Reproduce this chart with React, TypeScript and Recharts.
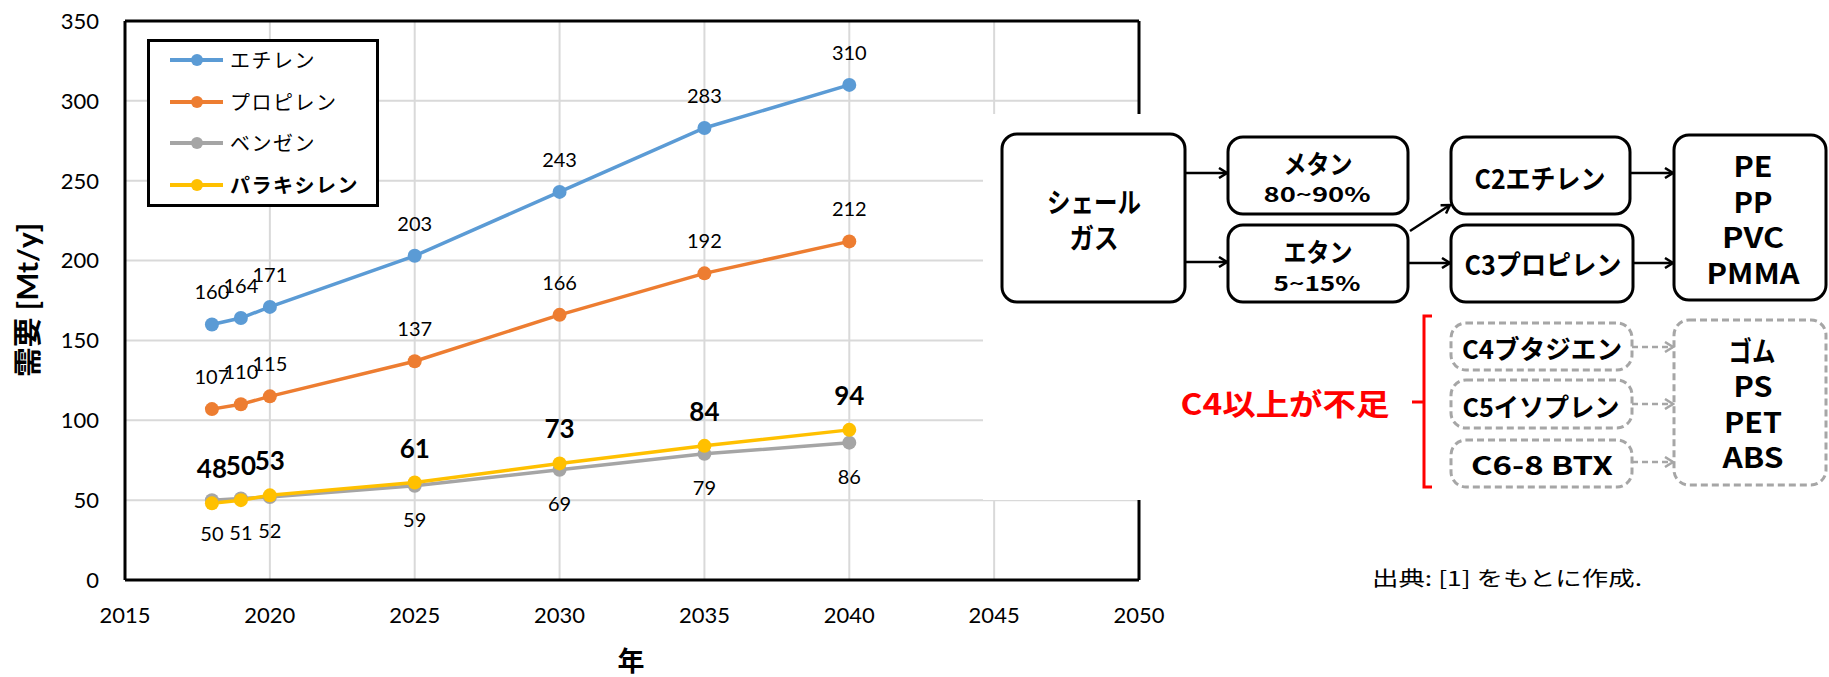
import { LineChart, Line, XAxis, YAxis, CartesianGrid, Legend, LabelList, ReferenceLine } from 'recharts';

// 需要予測 (Mt/y)
const years = [2018, 2019, 2020, 2025, 2030, 2035, 2040];
const ethylene = [160, 164, 171, 203, 243, 283, 310];
const propylene = [107, 110, 115, 137, 166, 192, 212];
const benzene = [50, 51, 52, 59, 69, 79, 86];
const paraxylene = [48, 50, 53, 61, 73, 84, 94];

const xTicks = [2015, 2020, 2025, 2030, 2035, 2040, 2045, 2050];
const yTicks = [0, 50, 100, 150, 200, 250, 300, 350];
const seriesNames = ['エチレン', 'プロピレン', 'ベンゼン', 'パラキシレン'];

const COLORS = ['#5B9BD5', '#ED7D31', '#A5A5A5', '#FFC000'];

const data = years.map((year, i) => ({
  year,
  ethylene: ethylene[i],
  propylene: propylene[i],
  benzene: benzene[i],
  paraxylene: paraxylene[i],
}));

const CJK = "'Noto Sans CJK JP', sans-serif";

const renderLegend = (props: any) => {
  const items = [...(props.payload || [])].sort(
    (a: any, b: any) => seriesNames.indexOf(a.value) - seriesNames.indexOf(b.value)
  );
  return (
    <div style={{ position: 'relative', width: 226, height: 162, border: '3px solid #000', background: '#fff' }}>
      {items.map((entry: any, i: number) => (
        <div
          key={entry.value}
          style={{ position: 'absolute', left: 0, top: 3 + i * 41.7, height: 30, display: 'flex', alignItems: 'center' }}
        >
          <svg width={80} height={30}>
            <line x1={20} x2={73} y1={15} y2={15} stroke={entry.color} strokeWidth={4} />
            <circle cx={47} cy={15} r={6} fill={entry.color} />
          </svg>
          <span
            style={{
              fontFamily: CJK,
              fontSize: 20,
              letterSpacing: 1.5,
              fontWeight: i === 3 ? 700 : 400,
              color: '#000',
              lineHeight: '30px',
            }}
          >
            {entry.value}
          </span>
        </div>
      ))}
    </div>
  );
};

// 図中のテキスト (幅をそろえる)
const Txt = ({ x, y, w, size, children, color = '#000', weight = 700, anchor = 'middle' }: any) => (
  <text
    x={x}
    y={y}
    fontSize={size}
    fontWeight={weight}
    fill={color}
    textAnchor={anchor}
    dominantBaseline="central"
    textLength={w}
    lengthAdjust="spacingAndGlyphs"
    fontFamily={CJK}
  >
    {children}
  </text>
);

const Box = ({ x1, y1, x2, y2, dashed = false }: any) => (
  <rect
    x={x1}
    y={y1}
    width={x2 - x1}
    height={y2 - y1}
    rx={15}
    ry={15}
    fill="#fff"
    stroke={dashed ? '#a6a6a6' : '#000'}
    strokeWidth={3}
    strokeDasharray={dashed ? '7 4' : undefined}
  />
);

const Arrow = ({ x1, y1, x2, y2, dashed = false }: any) => (
  <line
    x1={x1}
    y1={y1}
    x2={x2}
    y2={y2}
    stroke={dashed ? '#a6a6a6' : '#000'}
    strokeWidth={2.5}
    strokeDasharray={dashed ? '6 4' : undefined}
    markerEnd={dashed ? 'url(#ahGray)' : 'url(#ah)'}
  />
);

export default function App() {
  return (
    <div
      style={{
        position: 'absolute',
        left: 0,
        top: 0,
        width: 1829,
        height: 677,
        background: '#fff',
        fontFamily: "Lato, 'Noto Sans CJK JP', sans-serif",
      }}
    >
      <LineChart width={1829} height={677} data={data} margin={{ top: 21, right: 690, bottom: 37, left: 65 }}>
        <CartesianGrid stroke="#d9d9d9" strokeWidth={2} />
        <XAxis
          type="number"
          dataKey="year"
          domain={[2015, 2050]}
          ticks={xTicks}
          interval={0}
          height={60}
          tickLine={false}
          tickSize={0}
          tickMargin={27}
          axisLine={{ stroke: '#000', strokeWidth: 3 }}
          tick={{ fontSize: 22, fill: '#000' }}
        />
        <YAxis
          domain={[0, 350]}
          ticks={yTicks}
          interval={0}
          width={60}
          tickLine={false}
          tickSize={0}
          tickMargin={26}
          axisLine={{ stroke: '#000', strokeWidth: 3 }}
          tick={{ fontSize: 22, fill: '#000' }}
        />
        <ReferenceLine y={350} stroke="#000" strokeWidth={3} />
        <ReferenceLine x={2050} stroke="#000" strokeWidth={3} />
        <Legend
          layout="vertical"
          align="center"
          verticalAlign="middle"
          content={renderLegend}
          wrapperStyle={{ left: 147, top: 39, width: 232, height: 168 }}
        />
        <Line
          dataKey="ethylene"
          name={seriesNames[0]}
          stroke={COLORS[0]}
          strokeWidth={3.5}
          dot={{ r: 7, fill: COLORS[0], strokeWidth: 0 }}
          isAnimationActive={false}
        >
          <LabelList dataKey="ethylene" position="top" offset={25} fontSize={20} fill="#000" />
        </Line>
        <Line
          dataKey="propylene"
          name={seriesNames[1]}
          stroke={COLORS[1]}
          strokeWidth={3.5}
          dot={{ r: 7, fill: COLORS[1], strokeWidth: 0 }}
          isAnimationActive={false}
        >
          <LabelList dataKey="propylene" position="top" offset={25} fontSize={20} fill="#000" />
        </Line>
        <Line
          dataKey="benzene"
          name={seriesNames[2]}
          stroke={COLORS[2]}
          strokeWidth={3.5}
          dot={{ r: 7, fill: COLORS[2], strokeWidth: 0 }}
          isAnimationActive={false}
        >
          <LabelList dataKey="benzene" position="bottom" offset={27} fontSize={20} fill="#000" />
        </Line>
        <Line
          dataKey="paraxylene"
          name={seriesNames[3]}
          stroke={COLORS[3]}
          strokeWidth={3.5}
          dot={{ r: 7, fill: COLORS[3], strokeWidth: 0 }}
          isAnimationActive={false}
        >
          <LabelList dataKey="paraxylene" position="top" offset={25} fontSize={26} fontWeight={700} fill="#000" />
        </Line>
      </LineChart>

      <svg width={1829} height={677} style={{ position: 'absolute', left: 0, top: 0, pointerEvents: 'none' }}>
        <defs>
          <marker id="ah" markerWidth={12} markerHeight={12} refX={10} refY={6} orient="auto" markerUnits="userSpaceOnUse">
            <path d="M2,1 L10,6 L2,11" fill="none" stroke="#000" strokeWidth={2.5} />
          </marker>
          <marker id="ahGray" markerWidth={12} markerHeight={12} refX={10} refY={6} orient="auto" markerUnits="userSpaceOnUse">
            <path d="M2,1 L10,6 L2,11" fill="none" stroke="#a6a6a6" strokeWidth={2.5} />
          </marker>
        </defs>

        {/* 軸タイトル */}
        <text
          x={27}
          y={300}
          transform="rotate(-90 27 300)"
          fontSize={28}
          fontWeight={700}
          textAnchor="middle"
          dominantBaseline="central"
          textLength={154}
          lengthAdjust="spacingAndGlyphs"
          fill="#000"
        >
          需要 [Mt/y]
        </text>
        <text x={631} y={659} fontSize={27} fontWeight={700} textAnchor="middle" dominantBaseline="central" fontFamily={CJK} fill="#000">
          年
        </text>

        {/* フロー図 */}
        <rect x={983} y={114} width={846} height={386} fill="#fff" />

        <Box x1={1002} y1={134} x2={1185} y2={302} />
        <Box x1={1228} y1={137} x2={1408} y2={214} />
        <Box x1={1228} y1={225} x2={1408} y2={302} />
        <Box x1={1451} y1={137} x2={1630} y2={214} />
        <Box x1={1451} y1={225} x2={1633} y2={302} />
        <Box x1={1674} y1={135} x2={1826} y2={300} />

        <Box x1={1451} y1={323} x2={1632} y2={370} dashed />
        <Box x1={1451} y1={380} x2={1632} y2={428} dashed />
        <Box x1={1451} y1={440} x2={1632} y2={487} dashed />
        <Box x1={1674} y1={320} x2={1826} y2={485} dashed />

        <Arrow x1={1185} y1={173} x2={1227} y2={173} />
        <Arrow x1={1185} y1={262} x2={1227} y2={262} />
        <Arrow x1={1408} y1={263} x2={1450} y2={263} />
        <Arrow x1={1410} y1={231} x2={1450} y2={205} />
        <Arrow x1={1630} y1={173} x2={1673} y2={173} />
        <Arrow x1={1633} y1={263} x2={1673} y2={263} />
        <Arrow x1={1632} y1={347} x2={1673} y2={347} dashed />
        <Arrow x1={1632} y1={404} x2={1673} y2={404} dashed />
        <Arrow x1={1632} y1={462} x2={1673} y2={462} dashed />

        <path d="M1432,316 L1424,316 L1424,487 L1432,487 M1424,402 L1412,402" fill="none" stroke="#ff0000" strokeWidth={3} />

        <Txt x={1094} y={201} w={94} size={28}>シェール</Txt>
        <Txt x={1094} y={237} w={49} size={28}>ガス</Txt>
        <Txt x={1318} y={162} w={69} size={26}>メタン</Txt>
        <Txt x={1317} y={193} w={107} size={20}>80~90%</Txt>
        <Txt x={1318} y={250} w={69} size={26}>エタン</Txt>
        <Txt x={1317} y={282} w={87} size={20}>5~15%</Txt>
        <Txt x={1540} y={177} w={131} size={27}>C2エチレン</Txt>
        <Txt x={1543} y={263} w={157} size={27}>C3プロピレン</Txt>
        <Txt x={1753} y={165} w={39} size={28}>PE</Txt>
        <Txt x={1753} y={201} w={39} size={28}>PP</Txt>
        <Txt x={1753} y={236} w={62} size={28}>PVC</Txt>
        <Txt x={1753} y={272} w={93} size={28}>PMMA</Txt>

        <Txt x={1542} y={347} w={160} size={26}>C4ブタジエン</Txt>
        <Txt x={1541} y={405} w={157} size={26}>C5イソプレン</Txt>
        <Txt x={1542} y={463} w={142} size={26}>C6-8 BTX</Txt>
        <Txt x={1752} y={350} w={47} size={28}>ゴム</Txt>
        <Txt x={1753} y={385} w={39} size={28}>PS</Txt>
        <Txt x={1753} y={421} w={58} size={28}>PET</Txt>
        <Txt x={1753} y={456} w={61} size={28}>ABS</Txt>

        <Txt x={1285} y={402} w={209} size={30} color="#ff0000">C4以上が不足</Txt>

        <Txt x={1372} y={577} w={270} size={20} weight={400} anchor="start">出典: [1] をもとに作成.</Txt>
      </svg>
    </div>
  );
}
